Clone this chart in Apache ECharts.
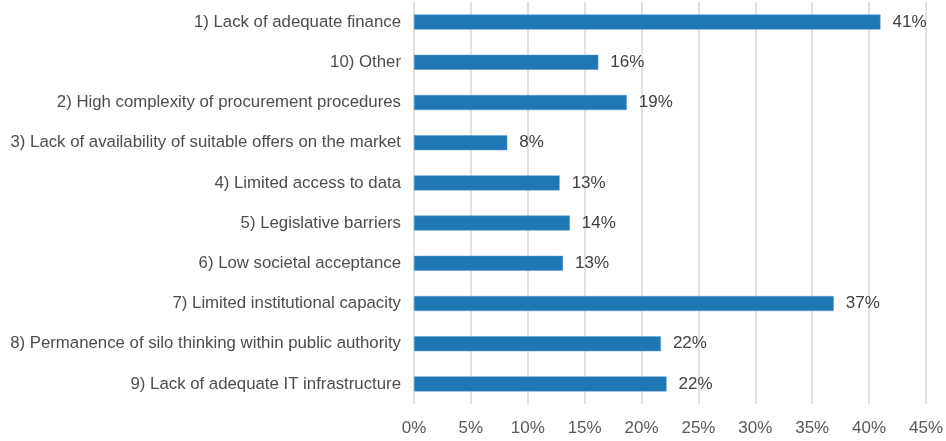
<!DOCTYPE html>
<html>
<head>
<meta charset="utf-8">
<script src="https://cdn.jsdelivr.net/npm/echarts@6/dist/echarts.min.js"></script>
<style>
html,body{margin:0;padding:0;background:#fff;}
#chart{width:946px;height:441px;}
</style>
</head>
<body>
<div id="chart"></div>
<script>
const categories = [
  "1) Lack of adequate finance",
  "10) Other",
  "2) High complexity of procurement procedures",
  "3) Lack of availability of suitable offers on the market",
  "4) Limited access to data",
  "5) Legislative barriers",
  "6) Low societal acceptance",
  "7) Limited institutional capacity",
  "8) Permanence of silo thinking within public authority",
  "9) Lack of adequate IT infrastructure"
];
const values = [41.0, 16.2, 18.7, 8.2, 12.8, 13.7, 13.1, 36.9, 21.7, 22.2];
const axisMin = 0, axisMax = 45, axisStep = 5;

const chart = echarts.init(document.getElementById('chart'), null, {renderer: 'canvas'});
chart.setOption({
  animation: false,
  backgroundColor: '#ffffff',
  grid: {left: 414, right: 20, top: 2, bottom: 37, containLabel: false},
  xAxis: {
    type: 'value', min: axisMin, max: axisMax, interval: axisStep,
    axisLine: {show: false}, axisTick: {show: false},
    splitLine: {show: true, lineStyle: {color: '#d9d9d9', width: 1.5}},
    axisLabel: {formatter: '{value}%', color: '#595959', fontSize: 17, fontFamily: 'Liberation Sans, Arial', margin: 16}
  },
  yAxis: {
    type: 'category', data: categories, inverse: true,
    axisLine: {show: false}, axisTick: {show: false},
    axisLabel: {color: '#4d4d4d', fontSize: 16.8, fontFamily: 'Liberation Sans, Arial', margin: 13}
  },
  series: [{
    type: 'bar', data: values, barWidth: 15,
    itemStyle: {color: '#1f77b4', borderColor: '#5a9bd0', borderWidth: 0.5},
    label: {show: true, position: 'right', distance: 12, color: '#404040', fontSize: 17, fontFamily: 'Liberation Sans, Arial',
      formatter: p => Math.round(p.value) + '%'}
  }]
});
</script>
</body>
</html>
